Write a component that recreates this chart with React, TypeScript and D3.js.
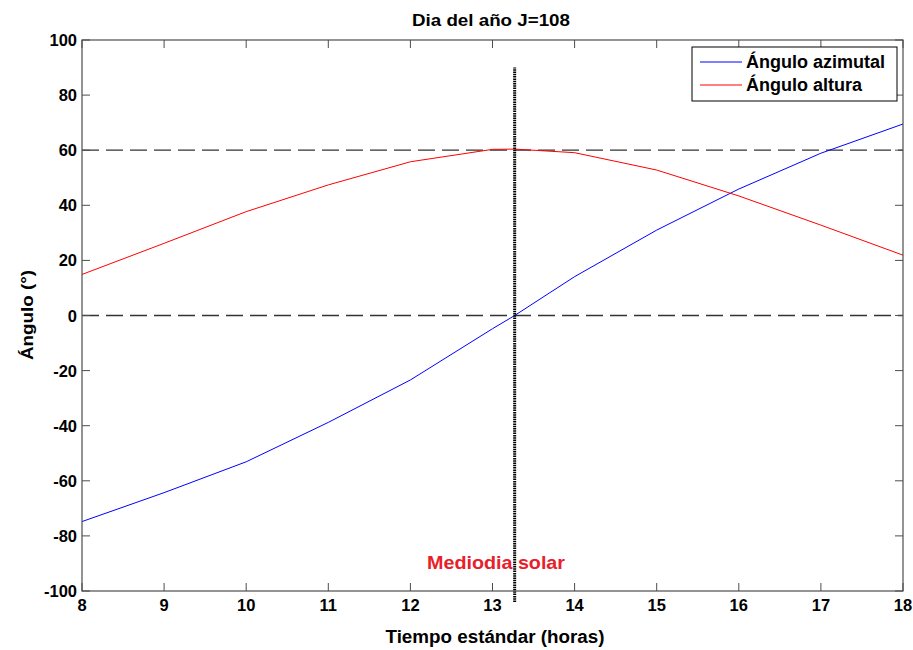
import React from "react";
import * as d3 from "d3";

const hours = [8, 9, 10, 11, 12, 13, 13.27, 14, 15, 16, 17, 18];
const azimuth = [-74.8, -64.3, -53.1, -38.8, -23.4, -4.8, 0, 14.1, 31.0, 45.9, 58.9, 69.5];
const altitude = [14.9, 26.2, 37.7, 47.4, 55.8, 60.3, 60.4, 59.1, 52.8, 43.4, 32.8, 21.9];
const xTicks = [8, 9, 10, 11, 12, 13, 14, 15, 16, 17, 18];
const yTicks = [-100, -80, -60, -40, -20, 0, 20, 40, 60, 80, 100];
const refLines = [0, 60];
const noonHour = 13.27;
const noonRange = [-104, 90];
const seriesNames = ["Ángulo azimutal", "Ángulo altura"];

const W = 913, H = 650;
const L = 82, R = 903, T = 40, B = 591;
const FONT = "'Liberation Sans', Arial, sans-serif";

export default function App() {
  const x = d3.scaleLinear().domain([8, 18]).range([L, R]);
  const y = d3.scaleLinear().domain([-100, 100]).range([B, T]);
  const line = d3.line<number>().x((_, i) => x(hours[i])).y((d) => y(d));
  const axisColor = "#4d4d4d";
  return (
    <svg width={W} height={H} style={{ position: "absolute", left: 0, top: 0, background: "#fff" }} fontFamily={FONT}>
      <rect x={0} y={0} width={W} height={H} fill="#fff" />
      {refLines.map((v) => (
        <line key={v} x1={L} x2={R} y1={y(v)} y2={y(v)} stroke="#333" strokeWidth={1.3} strokeDasharray="17,7" />
      ))}
      <path d={line(azimuth) || ""} fill="none" stroke="#0000ff" strokeWidth={1} />
      <path d={line(altitude) || ""} fill="none" stroke="#ff0000" strokeWidth={1} />
      <line x1={x(noonHour)} x2={x(noonHour)} y1={y(noonRange[0])} y2={y(noonRange[1])} stroke="#000" strokeWidth={3} strokeDasharray="1.5,0.8" />
      {/* box */}
      <rect x={L} y={T} width={R - L} height={B - T} fill="none" stroke={axisColor} strokeWidth={1.2} />
      {xTicks.map((t) => (
        <g key={"x" + t}>
          <line x1={x(t)} x2={x(t)} y1={B} y2={B - 8} stroke={axisColor} />
          <line x1={x(t)} x2={x(t)} y1={T} y2={T + 8} stroke={axisColor} />
          <text x={x(t)} y={611} textAnchor="middle" fontSize={16.5} fontWeight="bold" fill="#000">{t}</text>
        </g>
      ))}
      {yTicks.map((t) => (
        <g key={"y" + t}>
          <line x1={L} x2={L + 8} y1={y(t)} y2={y(t)} stroke={axisColor} />
          <line x1={R} x2={R - 8} y1={y(t)} y2={y(t)} stroke={axisColor} />
          <text x={77} y={y(t) + 6} textAnchor="end" fontSize={16.5} fontWeight="bold" fill="#000">{t}</text>
        </g>
      ))}
      <text x={491} y={26} textAnchor="middle" fontSize={16.5} fontWeight="bold" textLength={158} lengthAdjust="spacingAndGlyphs">Dia del año J=108</text>
      <text x={495} y={643} textAnchor="middle" fontSize={17.5} fontWeight="bold" textLength={219} lengthAdjust="spacingAndGlyphs">Tiempo estándar (horas)</text>
      <text transform={`translate(33,315) rotate(-90)`} textAnchor="middle" fontSize={17} fontWeight="bold" textLength={90} lengthAdjust="spacingAndGlyphs">Ángulo (°)</text>
      <text x={496} y={569} textAnchor="middle" fontSize={19} fontWeight="bold" fill="#e8202a" textLength={138} lengthAdjust="spacingAndGlyphs">Mediodia solar</text>
      {/* legend */}
      <rect x={692} y={47} width={205} height={54} fill="#fff" stroke="#000" strokeWidth={1} />
      {seriesNames.map((n, i) => (
        <g key={n}>
          <line x1={700} x2={742} y1={62 + i * 23} y2={62 + i * 23} stroke={i === 0 ? "#0000ff" : "#ff0000"} />
          <text x={746} y={62 + i * 23 + 6} fontSize={18} fontWeight="bold">{n}</text>
        </g>
      ))}
    </svg>
  );
}
